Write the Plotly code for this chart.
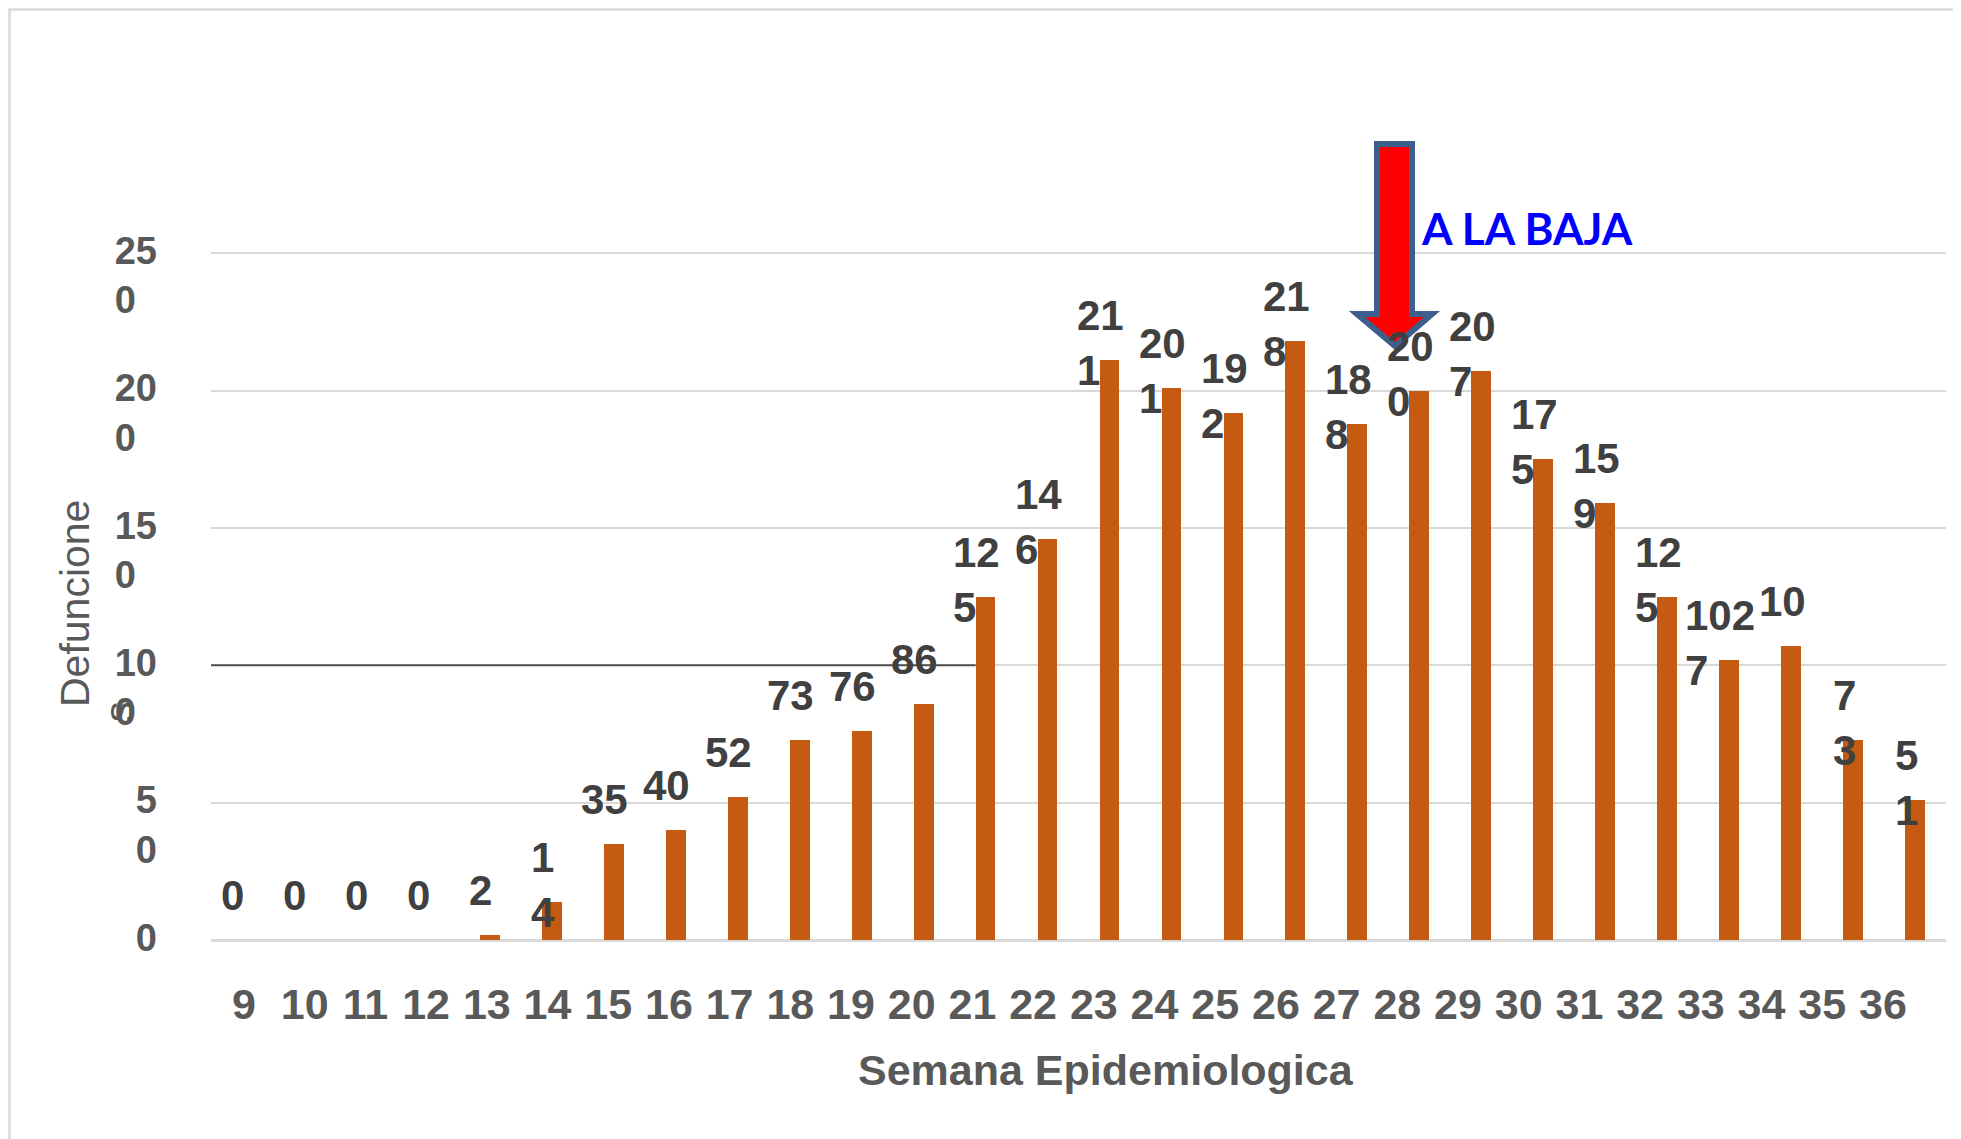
import plotly.graph_objects as go

# ---------------------------------------------------------------------------
# Data
# ---------------------------------------------------------------------------
WEEKS = list(range(9, 37))
DEATHS = [0, 0, 0, 0, 2, 14, 35, 40, 52, 73, 76, 86, 125, 146,
          211, 201, 192, 218, 188, 200, 207, 175, 159, 125, 102, 107, 73, 51]
# data labels, wrapped the same way the original chart wraps them
BAR_LABELS = ["0", "0", "0", "0", "2", "1<br>4", "35", "40", "52", "73", "76", "86",
              "12<br>5", "14<br>6", "21<br>1", "20<br>1", "19<br>2", "21<br>8",
              "18<br>8", "20<br>0", "20<br>7", "17<br>5", "15<br>9", "12<br>5",
              "102<br>7", "10", "7<br>3", "5<br>1"]
WEEK_TICKS = [str(w) for w in WEEKS]
NB = "\u00a0"
Y_TICKS = [0, 50, 100, 150, 200, 250]
Y_TICK_TEXT = ["0<br>" + NB, "5<br>0", "10<br>0" + NB * 2, "15<br>0" + NB * 2,
               "20<br>0" + NB * 2, "25<br>0" + NB * 2]
REF_LINE_Y = 100
X_TITLE = "Semana Epidemiologica"
Y_TITLE = "Defuncione"
Y_TITLE_TAIL = "s"
NOTE = "A LA BAJA"

# ---------------------------------------------------------------------------
# Look
# ---------------------------------------------------------------------------
W, H = 1961, 1139
OFF = 8                              # browser body margin
PL, PT, PR, PB = 211, 252, 1946, 940  # plot area on the page
PLOT_W, PLOT_H = PR - PL, PB - PT
BAR_COLOR = "#c55a11"
GRID = "#d9d9d9"
TXT = "#595959"
LBL = "#404040"
FONT = "Liberation Sans, Arial, sans-serif"
BAR_W = 0.32
TICK_STEP = 60.7                     # spacing of the week labels, page px


def px(x):
    return (x - PL) / PLOT_W


def py(y):
    return (PB - y) / PLOT_H


fig = go.Figure()
fig.add_trace(go.Bar(x=WEEKS, y=DEATHS, width=BAR_W, marker=dict(color=BAR_COLOR, line_width=0),
                     hoverinfo="x+y", showlegend=False))
# invisible carrier for the week-label axis
fig.add_trace(go.Scatter(x=WEEKS, y=[0] * len(WEEKS), xaxis="x2", mode="markers",
                         marker=dict(opacity=0), hoverinfo="skip", showlegend=False))

annotations = []
for w, v, t in zip(WEEKS, DEATHS, BAR_LABELS):
    annotations.append(dict(x=w, y=v, xref="x", yref="y", text=t, showarrow=False,
                            align="left", xanchor="center", yanchor="top",
                            xshift=-9, yshift=70,
                            font=dict(family=FONT, size=42, color=LBL, weight="bold")))

annotations += [
    dict(x=px(1106), y=py(1070), xref="paper", yref="paper", text=X_TITLE, showarrow=False,
         xanchor="center", yanchor="middle",
         font=dict(family=FONT, size=43, color=TXT, weight="bold")),
    dict(x=px(75), y=py(604), xref="paper", yref="paper", text=Y_TITLE, showarrow=False,
         textangle=-90, xanchor="center", yanchor="middle",
         font=dict(family=FONT, size=41, color=TXT)),
    dict(x=px(119), y=py(712), xref="paper", yref="paper", text=Y_TITLE_TAIL, showarrow=False,
         textangle=-90, xanchor="center", yanchor="middle",
         font=dict(family=FONT, size=41, color=TXT)),
    dict(x=px(1527), y=py(228), xref="paper", yref="paper", text=NOTE, showarrow=False,
         xanchor="center", yanchor="middle",
         font=dict(family="Lato, Carlito, sans-serif", size=44, color="#0000ff", weight="bold")),
]

# downward arrow (page-pixel outline converted to paper space)
arrow_pts = [(1377, 144), (1412, 144), (1412, 314), (1432, 314), (1395, 346),
             (1357, 314), (1377, 314)]
arrow_path = "M " + " L ".join(f"{px(a):.5f},{py(b):.5f}" for a, b in arrow_pts) + " Z"

shapes = [
    # chart-area border (only top/left edges fall inside the canvas)
    dict(type="rect", xref="paper", yref="paper", x0=px(9.5), y0=py(9.5), x1=px(1990), y1=py(1170),
         line=dict(color=GRID, width=2.5), fillcolor="rgba(0,0,0,0)", layer="below"),
    # dark reference line at 100, running up to the week-21 bar
    dict(type="line", xref="x", yref="y", x0=WEEKS[0] - 0.5, x1=21 - BAR_W / 2,
         y0=REF_LINE_Y, y1=REF_LINE_Y, line=dict(color="#505050", width=2)),
    dict(type="path", xref="paper", yref="paper", path=arrow_path,
         fillcolor="#ff0000", line=dict(color="#3c5f8d", width=6)),
]

x2_lo = WEEKS[0] - 33 / TICK_STEP
fig.update_layout(
    width=W, height=H,
    margin=dict(l=PL - OFF, r=W - (PR - OFF), t=PT - OFF, b=H - (PB - OFF), autoexpand=False),
    paper_bgcolor="white", plot_bgcolor="white",
    bargap=0,
    annotations=annotations, shapes=shapes,
    xaxis=dict(range=[WEEKS[0] - 0.5, WEEKS[-1] + 0.5], showticklabels=False, showgrid=False,
               zeroline=False, showline=False, ticks="", automargin=False),
    xaxis2=dict(overlaying="x", anchor="y", side="bottom",
                range=[x2_lo, x2_lo + PLOT_W / TICK_STEP],
                tickmode="array", tickvals=WEEKS, ticktext=WEEK_TICKS,
                showgrid=False, zeroline=False, showline=False, ticks="",
                ticklabelstandoff=35, automargin=False,
                tickfont=dict(family=FONT, size=43, color=TXT, weight="bold")),
    yaxis=dict(range=[0, 250.5], tickmode="array", tickvals=Y_TICKS, ticktext=Y_TICK_TEXT,
               showgrid=True, gridcolor=GRID, gridwidth=2,
               zeroline=True, zerolinecolor=GRID, zerolinewidth=2.5,
               showline=False, ticks="", ticklabelstandoff=53, ticklabelshift=22,
               automargin=False,
               tickfont=dict(family=FONT, size=38, color=TXT, weight="bold")),
)

fig.write_html("out.html")
